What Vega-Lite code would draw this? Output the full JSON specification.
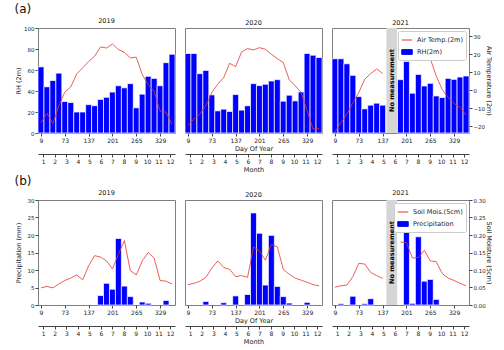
{
"$schema": "https://vega.github.io/schema/vega-lite/v6.json",
"padding": {"left": 14, "top": 3, "right": 0, "bottom": 0},
"background": "white",
"datasets": {
"d": [
{"y":2019,"s":1,"e":17,"m":9,"rh":63,"t":-18,"p":0,"sm":0.049,"g":1},
{"y":2019,"s":17,"e":33,"m":25,"rh":44,"t":-12.8,"p":0,"sm":0.053,"g":1},
{"y":2019,"s":33,"e":49,"m":41,"rh":50,"t":-18.5,"p":0,"sm":0.049,"g":1},
{"y":2019,"s":49,"e":65,"m":57,"rh":57,"t":-8.5,"p":0,"sm":0.060,"g":1},
{"y":2019,"s":65,"e":81,"m":73,"rh":30,"t":-1.0,"p":0,"sm":0.070,"g":1},
{"y":2019,"s":81,"e":97,"m":89,"rh":29,"t":1.9,"p":0,"sm":0.077,"g":1},
{"y":2019,"s":97,"e":113,"m":105,"rh":20,"t":9.1,"p":0,"sm":0.086,"g":1},
{"y":2019,"s":113,"e":129,"m":121,"rh":20,"t":12.5,"p":0,"sm":0.072,"g":1},
{"y":2019,"s":129,"e":145,"m":137,"rh":27,"t":16.0,"p":0,"sm":0.112,"g":1},
{"y":2019,"s":145,"e":161,"m":153,"rh":26,"t":18.9,"p":0,"sm":0.141,"g":1},
{"y":2019,"s":161,"e":177,"m":169,"rh":32,"t":24.1,"p":2.7,"sm":0.137,"g":1},
{"y":2019,"s":177,"e":193,"m":185,"rh":34,"t":23.5,"p":6.2,"sm":0.126,"g":1},
{"y":2019,"s":193,"e":209,"m":201,"rh":39,"t":25.7,"p":4.5,"sm":0.103,"g":1},
{"y":2019,"s":209,"e":225,"m":217,"rh":45,"t":22.6,"p":19.0,"sm":0.145,"g":1},
{"y":2019,"s":225,"e":241,"m":233,"rh":43,"t":21.1,"p":5.4,"sm":0.184,"g":1},
{"y":2019,"s":241,"e":257,"m":249,"rh":47,"t":18.0,"p":2.4,"sm":0.098,"g":1},
{"y":2019,"s":257,"e":273,"m":265,"rh":24,"t":18.4,"p":0,"sm":0.086,"g":1},
{"y":2019,"s":273,"e":289,"m":281,"rh":37,"t":8.8,"p":0.85,"sm":0.126,"g":1},
{"y":2019,"s":289,"e":305,"m":297,"rh":54,"t":3.2,"p":0.5,"sm":0.150,"g":1},
{"y":2019,"s":305,"e":321,"m":313,"rh":52,"t":-0.5,"p":0,"sm":0.134,"g":1},
{"y":2019,"s":321,"e":337,"m":329,"rh":45,"t":-11.5,"p":0,"sm":0.070,"g":1},
{"y":2019,"s":337,"e":353,"m":345,"rh":67,"t":-12.1,"p":1.3,"sm":0.068,"g":1},
{"y":2019,"s":353,"e":369,"m":361,"rh":75,"t":-18.9,"p":0,"sm":0.060,"g":1},
{"y":2020,"s":1,"e":17,"m":9,"rh":75.7,"t":-19.3,"p":0,"sm":0.058,"g":1},
{"y":2020,"s":17,"e":33,"m":25,"rh":75.7,"t":-16,"p":0,"sm":0.062,"g":1},
{"y":2020,"s":33,"e":49,"m":41,"rh":56.5,"t":-13.2,"p":0,"sm":0.068,"g":1},
{"y":2020,"s":49,"e":65,"m":57,"rh":59.6,"t":-8.6,"p":1.0,"sm":0.079,"g":1},
{"y":2020,"s":65,"e":81,"m":73,"rh":36.3,"t":-1.2,"p":0,"sm":0.105,"g":1},
{"y":2020,"s":81,"e":97,"m":89,"rh":21.1,"t":3.4,"p":0,"sm":0.126,"g":1},
{"y":2020,"s":97,"e":113,"m":105,"rh":22.7,"t":7.1,"p":0.66,"sm":0.107,"g":1},
{"y":2020,"s":113,"e":129,"m":121,"rh":20.5,"t":15.0,"p":0,"sm":0.102,"g":1},
{"y":2020,"s":129,"e":145,"m":137,"rh":36.6,"t":13.2,"p":2.6,"sm":0.081,"g":1},
{"y":2020,"s":145,"e":161,"m":153,"rh":21.8,"t":21.3,"p":0,"sm":0.084,"g":1},
{"y":2020,"s":161,"e":177,"m":169,"rh":25.9,"t":23.2,"p":3.0,"sm":0.079,"g":1},
{"y":2020,"s":177,"e":193,"m":185,"rh":47,"t":22.4,"p":26.3,"sm":0.166,"g":1},
{"y":2020,"s":193,"e":209,"m":201,"rh":45.1,"t":23.7,"p":20.5,"sm":0.154,"g":1},
{"y":2020,"s":209,"e":225,"m":217,"rh":46.4,"t":22.8,"p":5.7,"sm":0.128,"g":1},
{"y":2020,"s":225,"e":241,"m":233,"rh":49.5,"t":20.0,"p":19.9,"sm":0.173,"g":1},
{"y":2020,"s":241,"e":257,"m":249,"rh":50.8,"t":17.6,"p":5.3,"sm":0.166,"g":1},
{"y":2020,"s":257,"e":273,"m":265,"rh":30.3,"t":15.4,"p":2.4,"sm":0.102,"g":1},
{"y":2020,"s":273,"e":289,"m":281,"rh":36,"t":5.8,"p":0.56,"sm":0.088,"g":1},
{"y":2020,"s":289,"e":305,"m":297,"rh":30.6,"t":2.5,"p":0,"sm":0.077,"g":1},
{"y":2020,"s":305,"e":321,"m":313,"rh":39.1,"t":-1.2,"p":0,"sm":0.071,"g":1},
{"y":2020,"s":321,"e":337,"m":329,"rh":75.7,"t":-11.3,"p":0.75,"sm":0.065,"g":1},
{"y":2020,"s":337,"e":353,"m":345,"rh":74.1,"t":-21.5,"p":0,"sm":0.058,"g":1},
{"y":2020,"s":353,"e":369,"m":361,"rh":71.9,"t":-21.1,"p":0,"sm":0.055,"g":1},
{"y":2021,"s":1,"e":17,"m":9,"rh":70.7,"t":-23.0,"p":0,"sm":0.051,"g":1},
{"y":2021,"s":17,"e":33,"m":25,"rh":70.7,"t":-17.9,"p":0.38,"sm":0.055,"g":1},
{"y":2021,"s":33,"e":49,"m":41,"rh":65.9,"t":-13.2,"p":0,"sm":0.057,"g":1},
{"y":2021,"s":49,"e":65,"m":57,"rh":54.9,"t":-6.9,"p":2.5,"sm":0.081,"g":1},
{"y":2021,"s":65,"e":81,"m":73,"rh":34.7,"t":-1.2,"p":0,"sm":0.119,"g":1},
{"y":2021,"s":81,"e":97,"m":89,"rh":23.0,"t":6.2,"p":0.38,"sm":0.117,"g":1},
{"y":2021,"s":97,"e":113,"m":105,"rh":26.5,"t":9.3,"p":1.8,"sm":0.093,"g":1},
{"y":2021,"s":113,"e":129,"m":121,"rh":28.4,"t":11.9,"p":0,"sm":0.084,"g":1},
{"y":2021,"s":129,"e":145,"m":137,"rh":26.5,"t":9.3,"p":0,"sm":0.076,"g":1},
{"y":2021,"s":177,"e":193,"m":185,"rh":50.8,"t":24.1,"p":0,"sm":0.180,"g":2},
{"y":2021,"s":193,"e":209,"m":201,"rh":68.1,"t":21.9,"p":22.0,"sm":0.178,"g":2},
{"y":2021,"s":209,"e":225,"m":217,"rh":37.9,"t":22.4,"p":0.47,"sm":0.134,"g":2},
{"y":2021,"s":225,"e":241,"m":233,"rh":55.8,"t":19.5,"p":19.5,"sm":0.136,"g":2},
{"y":2021,"s":241,"e":257,"m":249,"rh":44.8,"t":18.6,"p":6.8,"sm":0.156,"g":2},
{"y":2021,"s":257,"e":273,"m":265,"rh":47.3,"t":17.6,"p":7.3,"sm":0.126,"g":2},
{"y":2021,"s":273,"e":289,"m":281,"rh":35.3,"t":7.9,"p":1.6,"sm":0.124,"g":2},
{"y":2021,"s":289,"e":305,"m":297,"rh":33.8,"t":0.5,"p":0,"sm":0.090,"g":2},
{"y":2021,"s":305,"e":321,"m":313,"rh":52,"t":-4,"p":0,"sm":0.077,"g":2},
{"y":2021,"s":321,"e":337,"m":329,"rh":51.1,"t":-7.3,"p":0,"sm":0.070,"g":2},
{"y":2021,"s":337,"e":353,"m":345,"rh":53.3,"t":-9.5,"p":0,"sm":0.062,"g":2},
{"y":2021,"s":353,"e":369,"m":361,"rh":54.3,"t":-13.7,"p":0,"sm":0.055,"g":2}
]
},
"resolve": {"scale": {"color": "independent"}, "legend": {"color": "independent"}},
"vconcat": [
{
"title": {"text": "(a)", "anchor": "start", "fontSize": 12, "fontWeight": "normal", "offset": 1},
"spacing": 8,
"resolve": {"scale": {"color": "independent"}, "legend": {"color": "independent"}},
"hconcat": [
{
"width": 137, "height": 105,
"title": {"text": "2019", "fontWeight": "normal", "fontSize": 6.5},
"data": {"name": "d"},
"transform": [{"filter": "datum.y == 2019"}],
"layer": [
{"mark": {"type": "rect", "color": "#0000ff", "stroke": "#ffffff", "strokeWidth": 0.7},
"encoding": {
"x": {"field": "s", "type": "quantitative", "scale": {"domain": [1, 369], "nice": false, "zero": false}, "axis": {"values": [9,73,137,201,265,329], "title": null, "domain": false}},
"x2": {"field": "e"},
"y": {"field": "rh", "type": "quantitative", "scale": {"domain": [0, 100], "nice": false}, "axis": {"title": "RH (2m)", "values": [0,20,40,60,80,100], "domain": false, "labelFontSize": 5.5, "minExtent": 15, "maxExtent": 15, "titlePadding": 2}},
"y2": {"datum": 0}
}},
{"mark": {"type": "line", "color": "#e8352e", "strokeWidth": 0.8},
"encoding": {
"x": {"field": "m", "type": "quantitative", "scale": {"domain": [1, 369], "nice": false, "zero": false}, "axis": {"orient": "bottom", "values": [15,46,77,108,139,170,201,232,263,294,325,356], "labelExpr": "round((datum.value - 15) / 31) + 1", "offset": 21, "domain": true, "title": null}},
"y": {"field": "t", "type": "quantitative", "scale": {"domain": [-23.7, 34.6], "nice": false, "zero": false}, "axis": null},
"detail": {"field": "g", "type": "nominal"}
}}
],
"resolve": {"scale": {"y": "independent"}, "axis": {"x": "independent", "y": "independent"}}
},
{
"width": 137, "height": 105,
"title": {"text": "2020", "fontWeight": "normal", "fontSize": 6.5},
"data": {"name": "d"},
"transform": [{"filter": "datum.y == 2020"}],
"layer": [
{"mark": {"type": "rect", "color": "#0000ff", "stroke": "#ffffff", "strokeWidth": 0.7},
"encoding": {
"x": {"field": "s", "type": "quantitative", "scale": {"domain": [1, 369], "nice": false, "zero": false}, "axis": {"values": [9,73,137,201,265,329], "title": "Day Of Year", "domain": false}},
"x2": {"field": "e"},
"y": {"field": "rh", "type": "quantitative", "scale": {"domain": [0, 100], "nice": false}, "axis": null},
"y2": {"datum": 0}
}},
{"mark": {"type": "line", "color": "#e8352e", "strokeWidth": 0.8},
"encoding": {
"x": {"field": "m", "type": "quantitative", "scale": {"domain": [1, 369], "nice": false, "zero": false}, "axis": {"orient": "bottom", "values": [15,46,77,108,139,170,201,232,263,294,325,356], "labelExpr": "round((datum.value - 15) / 31) + 1", "offset": 21, "domain": true, "title": "Month"}},
"y": {"field": "t", "type": "quantitative", "scale": {"domain": [-23.7, 34.6], "nice": false, "zero": false}, "axis": null},
"detail": {"field": "g", "type": "nominal"}
}}
],
"resolve": {"scale": {"y": "independent"}, "axis": {"x": "independent", "y": "independent"}}
},
{
"width": 137, "height": 105,
"title": {"text": "2021", "fontWeight": "normal", "fontSize": 6.5},
"data": {"name": "d"},
"transform": [{"filter": "datum.y == 2021"}],
"layer": [
{"data": {"values": [{"s": 147, "e": 176}]},
"mark": {"type": "rect", "color": "#d6d6d6"},
"encoding": {
"x": {"field": "s", "type": "quantitative", "scale": {"domain": [1, 369], "nice": false, "zero": false}, "axis": null},
"x2": {"field": "e"}
}},
{"mark": {"type": "rect", "stroke": "#ffffff", "strokeWidth": 0.7},
"encoding": {
"x": {"field": "s", "type": "quantitative", "scale": {"domain": [1, 369], "nice": false, "zero": false}, "axis": {"values": [9,73,137,201,265,329], "title": null, "domain": false}},
"x2": {"field": "e"},
"y": {"field": "rh", "type": "quantitative", "scale": {"domain": [0, 100], "nice": false}, "axis": null},
"y2": {"datum": 0},
"color": {"datum": "RH(2m)", "type": "nominal", "scale": {"domain": ["Air Temp.(2m)", "RH(2m)"], "range": ["#e8352e", "#0000ff"]}}
}},
{"mark": {"type": "line", "strokeWidth": 0.8},
"encoding": {
"x": {"field": "m", "type": "quantitative", "scale": {"domain": [1, 369], "nice": false, "zero": false}, "axis": {"orient": "bottom", "values": [15,46,77,108,139,170,201,232,263,294,325,356], "labelExpr": "round((datum.value - 15) / 31) + 1", "offset": 21, "domain": true, "title": null}},
"y": {"field": "t", "type": "quantitative", "scale": {"domain": [-23.7, 34.6], "nice": false, "zero": false}, "axis": {"orient": "right", "title": "Air Temperature (2m)", "values": [-20,-10,0,10,20,30], "domain": false, "labelFontSize": 5.5, "minExtent": 15, "maxExtent": 15, "titlePadding": 1}},
"detail": {"field": "g", "type": "nominal"},
"color": {"datum": "Air Temp.(2m)", "type": "nominal", "scale": {"domain": ["Air Temp.(2m)", "RH(2m)"], "range": ["#e8352e", "#0000ff"]},
"legend": {"title": null, "orient": "top-right", "offset": 3, "padding": 3, "strokeColor": "#cccccc", "cornerRadius": 2, "fillColor": "#ffffff", "rowPadding": 2, "symbolSize": 110, "labelFontSize": 6.5,
"encode": {"symbols": {"update": {
"shape": {"signal": "datum.value == 'RH(2m)' ? 'M-1,-0.45H1V0.45H-1Z' : 'stroke'"},
"fill": {"signal": "datum.value == 'RH(2m)' ? '#0000ff' : 'transparent'"},
"stroke": {"signal": "datum.value == 'RH(2m)' ? 'transparent' : '#e8352e'"},
"strokeWidth": {"value": 1},
"opacity": {"value": 1}}}}}}
}},
{"data": {"values": [{"c": 161.5, "label": "No measurement"}]},
"mark": {"type": "text", "angle": 270, "fontWeight": "bold", "fontSize": 6.5, "font": "DejaVu Sans", "color": "#000"},
"encoding": {
"x": {"field": "c", "type": "quantitative", "scale": {"domain": [1, 369], "nice": false, "zero": false}, "axis": null},
"text": {"field": "label"}
}}
],
"resolve": {"scale": {"y": "independent"}, "axis": {"x": "independent", "y": "independent"}}
}
]
},
{
"title": {"text": "(b)", "anchor": "start", "fontSize": 12, "fontWeight": "normal", "offset": 1},
"spacing": 8,
"resolve": {"scale": {"color": "independent"}, "legend": {"color": "independent"}},
"hconcat": [
{
"width": 137, "height": 105,
"title": {"text": "2019", "fontWeight": "normal", "fontSize": 6.5},
"data": {"name": "d"},
"transform": [{"filter": "datum.y == 2019"}],
"layer": [
{"transform": [{"filter": "datum.p > 0"}],
"mark": {"type": "rect", "color": "#0000ff", "stroke": "#ffffff", "strokeWidth": 0.7},
"encoding": {
"x": {"field": "s", "type": "quantitative", "scale": {"domain": [1, 369], "nice": false, "zero": false}, "axis": {"values": [9,73,137,201,265,329], "title": null, "domain": false}},
"x2": {"field": "e"},
"y": {"field": "p", "type": "quantitative", "scale": {"domain": [0, 30], "nice": false}, "axis": {"title": "Precipitation (mm)", "values": [0,5,10,15,20,25,30], "domain": false, "labelFontSize": 5.5, "minExtent": 15, "maxExtent": 15, "titlePadding": 2}},
"y2": {"datum": 0}
}},
{"mark": {"type": "line", "color": "#e8352e", "strokeWidth": 0.8},
"encoding": {
"x": {"field": "m", "type": "quantitative", "scale": {"domain": [1, 369], "nice": false, "zero": false}, "axis": {"orient": "bottom", "values": [15,46,77,108,139,170,201,232,263,294,325,356], "labelExpr": "round((datum.value - 15) / 31) + 1", "offset": 21, "domain": true, "title": null}},
"y": {"field": "sm", "type": "quantitative", "scale": {"domain": [0, 0.3], "nice": false}, "axis": null},
"detail": {"field": "g", "type": "nominal"}
}}
],
"resolve": {"scale": {"y": "independent"}, "axis": {"x": "independent", "y": "independent"}}
},
{
"width": 137, "height": 105,
"title": {"text": "2020", "fontWeight": "normal", "fontSize": 6.5},
"data": {"name": "d"},
"transform": [{"filter": "datum.y == 2020"}],
"layer": [
{"transform": [{"filter": "datum.p > 0"}],
"mark": {"type": "rect", "color": "#0000ff", "stroke": "#ffffff", "strokeWidth": 0.7},
"encoding": {
"x": {"field": "s", "type": "quantitative", "scale": {"domain": [1, 369], "nice": false, "zero": false}, "axis": {"values": [9,73,137,201,265,329], "title": "Day Of Year", "domain": false}},
"x2": {"field": "e"},
"y": {"field": "p", "type": "quantitative", "scale": {"domain": [0, 30], "nice": false}, "axis": null},
"y2": {"datum": 0}
}},
{"mark": {"type": "line", "color": "#e8352e", "strokeWidth": 0.8},
"encoding": {
"x": {"field": "m", "type": "quantitative", "scale": {"domain": [1, 369], "nice": false, "zero": false}, "axis": {"orient": "bottom", "values": [15,46,77,108,139,170,201,232,263,294,325,356], "labelExpr": "round((datum.value - 15) / 31) + 1", "offset": 21, "domain": true, "title": "Month"}},
"y": {"field": "sm", "type": "quantitative", "scale": {"domain": [0, 0.3], "nice": false}, "axis": null},
"detail": {"field": "g", "type": "nominal"}
}}
],
"resolve": {"scale": {"y": "independent"}, "axis": {"x": "independent", "y": "independent"}}
},
{
"width": 137, "height": 105,
"title": {"text": "2021", "fontWeight": "normal", "fontSize": 6.5},
"data": {"name": "d"},
"transform": [{"filter": "datum.y == 2021"}],
"layer": [
{"data": {"values": [{"s": 147, "e": 176}]},
"mark": {"type": "rect", "color": "#d6d6d6"},
"encoding": {
"x": {"field": "s", "type": "quantitative", "scale": {"domain": [1, 369], "nice": false, "zero": false}, "axis": null},
"x2": {"field": "e"}
}},
{"transform": [{"filter": "datum.p > 0"}],
"mark": {"type": "rect", "stroke": "#ffffff", "strokeWidth": 0.7},
"encoding": {
"x": {"field": "s", "type": "quantitative", "scale": {"domain": [1, 369], "nice": false, "zero": false}, "axis": {"values": [9,73,137,201,265,329], "title": null, "domain": false}},
"x2": {"field": "e"},
"y": {"field": "p", "type": "quantitative", "scale": {"domain": [0, 30], "nice": false}, "axis": null},
"y2": {"datum": 0},
"color": {"datum": "Precipitation", "type": "nominal", "scale": {"domain": ["Soil Mois.(5cm)", "Precipitation"], "range": ["#e8352e", "#0000ff"]}}
}},
{"mark": {"type": "line", "strokeWidth": 0.8},
"encoding": {
"x": {"field": "m", "type": "quantitative", "scale": {"domain": [1, 369], "nice": false, "zero": false}, "axis": {"orient": "bottom", "values": [15,46,77,108,139,170,201,232,263,294,325,356], "labelExpr": "round((datum.value - 15) / 31) + 1", "offset": 21, "domain": true, "title": null}},
"y": {"field": "sm", "type": "quantitative", "scale": {"domain": [0, 0.3], "nice": false}, "axis": {"orient": "right", "title": "Soil Moisture (5cm)", "values": [0,0.05,0.1,0.15,0.2,0.25,0.3], "format": ".2f", "domain": false, "labelFontSize": 5.5, "minExtent": 15, "maxExtent": 15, "titlePadding": 1}},
"detail": {"field": "g", "type": "nominal"},
"color": {"datum": "Soil Mois.(5cm)", "type": "nominal", "scale": {"domain": ["Soil Mois.(5cm)", "Precipitation"], "range": ["#e8352e", "#0000ff"]},
"legend": {"title": null, "orient": "top-right", "offset": 3, "padding": 3, "strokeColor": "#cccccc", "cornerRadius": 2, "fillColor": "#ffffff", "rowPadding": 2, "symbolSize": 110, "labelFontSize": 6.5,
"encode": {"symbols": {"update": {
"shape": {"signal": "datum.value == 'Precipitation' ? 'M-1,-0.45H1V0.45H-1Z' : 'stroke'"},
"fill": {"signal": "datum.value == 'Precipitation' ? '#0000ff' : 'transparent'"},
"stroke": {"signal": "datum.value == 'Precipitation' ? 'transparent' : '#e8352e'"},
"strokeWidth": {"value": 1},
"opacity": {"value": 1}}}}}}
}},
{"data": {"values": [{"c": 161.5, "label": "No measurement"}]},
"mark": {"type": "text", "angle": 270, "fontWeight": "bold", "fontSize": 6.5, "font": "DejaVu Sans", "color": "#000"},
"encoding": {
"x": {"field": "c", "type": "quantitative", "scale": {"domain": [1, 369], "nice": false, "zero": false}, "axis": null},
"text": {"field": "label"}
}}
],
"resolve": {"scale": {"y": "independent"}, "axis": {"x": "independent", "y": "independent"}}
}
]
}
],
"spacing": 2,
"config": {
"font": "DejaVu Sans",
"view": {"stroke": "#808080", "strokeWidth": 1},
"title": {"fontSize": 6.5, "fontWeight": "normal", "offset": 2, "font": "DejaVu Sans", "color": "#111"},
"axis": {"labelFontSize": 6, "titleFontSize": 6.5, "titleFontWeight": "normal", "labelFont": "DejaVu Sans", "titleFont": "DejaVu Sans", "labelColor": "#222", "titleColor": "#222", "tickColor": "#444", "domainColor": "#444", "tickSize": 3, "labelPadding": 1, "titlePadding": 2, "grid": false, "labelFlush": false, "labelOverlap": false, "labelBound": false},
"legend": {"labelFont": "DejaVu Sans", "labelColor": "#222"}
}
}
